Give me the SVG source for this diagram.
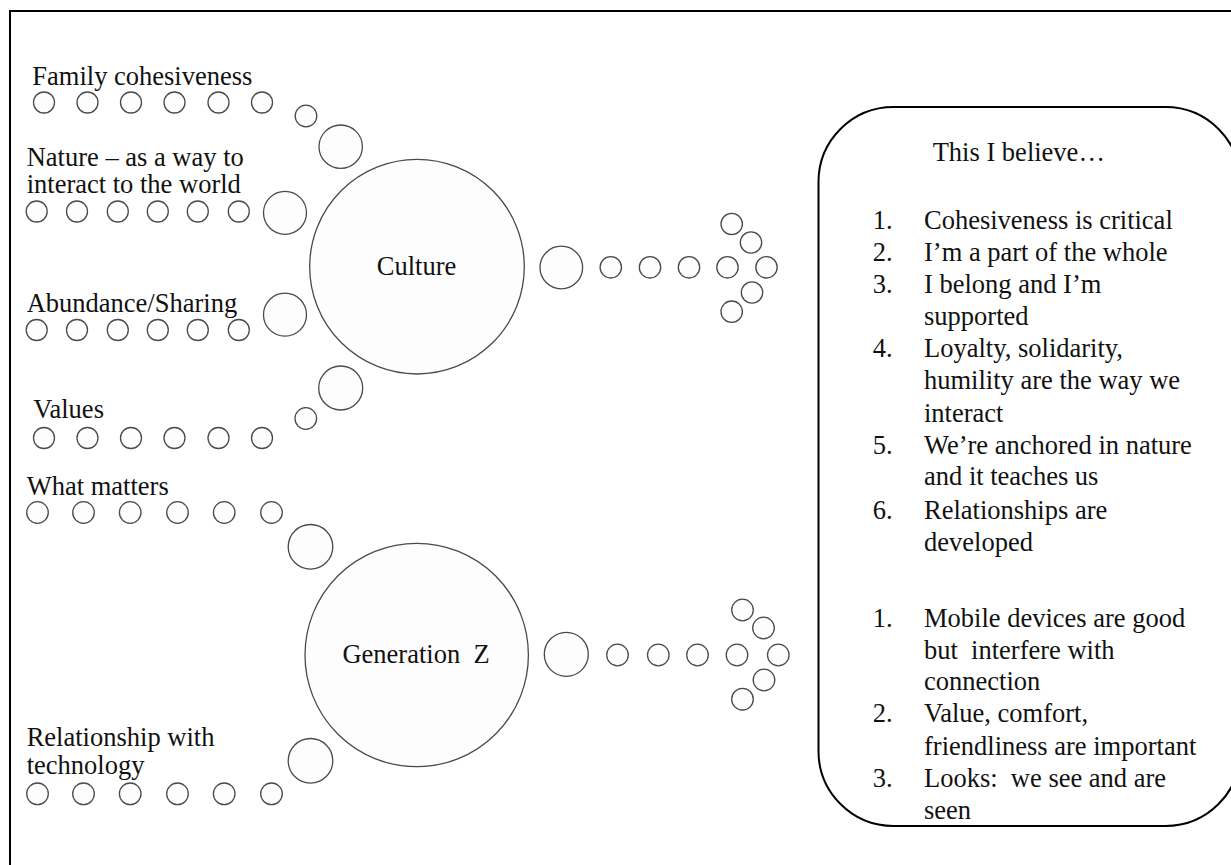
<svg xmlns="http://www.w3.org/2000/svg" width="1231" height="865" viewBox="0 0 1231 865">
  <style>
    .t { font-family: 'Liberation Serif', Tinos, 'Times New Roman', 'DejaVu Serif', serif; font-size: 26.5px; fill: #111; white-space: pre; }
    .c { text-anchor: middle; }
    .d { fill: #fdfdfd; stroke: #4a4a4a; stroke-width: 1.3; }
    .big { fill: #fdfdfd; stroke: #4a4a4a; stroke-width: 1.3; }
    .frame { fill: none; stroke: #000; stroke-width: 2; }
    .box { fill: #fff; stroke: #000; stroke-width: 2; }
  </style>
  <rect width="1231" height="865" fill="#fff"/>
  <path class="frame" d="M10,865 V11 H1231"/>

  <g id="connectors">
    <g id="row-family">
      <circle class="d" cx="44" cy="102.5" r="10.5"/>
      <circle class="d" cx="87.5" cy="102.5" r="10.5"/>
      <circle class="d" cx="131" cy="102.5" r="10.5"/>
      <circle class="d" cx="174.5" cy="102.5" r="10.5"/>
      <circle class="d" cx="218.5" cy="102.5" r="10.5"/>
      <circle class="d" cx="262" cy="102.5" r="10.5"/>
      <circle class="d" cx="306" cy="116" r="10.8"/>
      <circle class="d" cx="340.7" cy="146.7" r="21.7"/>
    </g>
    <g id="row-nature">
      <circle class="d" cx="36.7" cy="211.5" r="10.5"/>
      <circle class="d" cx="77" cy="211.5" r="10.5"/>
      <circle class="d" cx="117.8" cy="211.5" r="10.5"/>
      <circle class="d" cx="157.8" cy="211.5" r="10.5"/>
      <circle class="d" cx="197.8" cy="211.5" r="10.5"/>
      <circle class="d" cx="238.8" cy="211.5" r="10.5"/>
      <circle class="d" cx="285" cy="212.8" r="21.5"/>
    </g>
    <g id="row-abundance">
      <circle class="d" cx="36.7" cy="330" r="10.5"/>
      <circle class="d" cx="77" cy="330" r="10.5"/>
      <circle class="d" cx="117.8" cy="330" r="10.5"/>
      <circle class="d" cx="157.8" cy="330" r="10.5"/>
      <circle class="d" cx="197.8" cy="330" r="10.5"/>
      <circle class="d" cx="238.8" cy="330" r="10.5"/>
      <circle class="d" cx="285" cy="314.7" r="21.5"/>
    </g>
    <g id="row-values">
      <circle class="d" cx="44" cy="438" r="10.5"/>
      <circle class="d" cx="87.5" cy="438" r="10.5"/>
      <circle class="d" cx="131" cy="438" r="10.5"/>
      <circle class="d" cx="174.5" cy="438" r="10.5"/>
      <circle class="d" cx="218.5" cy="438" r="10.5"/>
      <circle class="d" cx="262" cy="438" r="10.5"/>
      <circle class="d" cx="305.8" cy="418.5" r="10.8"/>
      <circle class="d" cx="340.7" cy="388" r="22"/>
    </g>
    <g id="row-matters">
      <circle class="d" cx="37.5" cy="512.5" r="10.8"/>
      <circle class="d" cx="83.5" cy="512.5" r="10.8"/>
      <circle class="d" cx="130.2" cy="512.5" r="10.8"/>
      <circle class="d" cx="177.5" cy="512.5" r="10.8"/>
      <circle class="d" cx="224.2" cy="512.5" r="10.8"/>
      <circle class="d" cx="271.5" cy="512.5" r="10.8"/>
      <circle class="d" cx="310.5" cy="546.8" r="22.3"/>
    </g>
    <g id="row-technology">
      <circle class="d" cx="37.5" cy="793.8" r="10.8"/>
      <circle class="d" cx="83.5" cy="793.8" r="10.8"/>
      <circle class="d" cx="130.2" cy="793.8" r="10.8"/>
      <circle class="d" cx="177.5" cy="793.8" r="10.8"/>
      <circle class="d" cx="224.2" cy="793.8" r="10.8"/>
      <circle class="d" cx="271.5" cy="793.8" r="10.8"/>
      <circle class="d" cx="310.5" cy="760.8" r="22.3"/>
    </g>
    <g id="arrow-culture">
      <circle class="d" cx="561.3" cy="267.5" r="21.3"/>
      <circle class="d" cx="610.8" cy="267.3" r="10.7"/>
      <circle class="d" cx="650" cy="267.3" r="10.7"/>
      <circle class="d" cx="689" cy="267.3" r="10.7"/>
      <circle class="d" cx="727.5" cy="267.3" r="10.7"/>
      <circle class="d" cx="766.5" cy="267.3" r="10.7"/>
      <circle class="d" cx="731.7" cy="224" r="10.7"/>
      <circle class="d" cx="751" cy="242.5" r="10.7"/>
      <circle class="d" cx="752" cy="292.5" r="10.7"/>
      <circle class="d" cx="731.7" cy="311.7" r="10.7"/>
    </g>
    <g id="arrow-genz">
      <circle class="d" cx="566.3" cy="654.3" r="22"/>
      <circle class="d" cx="617.5" cy="655" r="10.8"/>
      <circle class="d" cx="658.3" cy="655" r="10.8"/>
      <circle class="d" cx="697.5" cy="655" r="10.8"/>
      <circle class="d" cx="737" cy="655" r="10.8"/>
      <circle class="d" cx="778.3" cy="655" r="10.8"/>
      <circle class="d" cx="742.5" cy="610" r="10.8"/>
      <circle class="d" cx="763.5" cy="628" r="10.8"/>
      <circle class="d" cx="764" cy="680" r="10.8"/>
      <circle class="d" cx="742.5" cy="699.2" r="10.8"/>
    </g>
  </g>

  <g id="label-family"><text class="t" x="32.3" y="85">Family cohesiveness</text></g>
  <g id="label-nature">
    <text class="t" x="26.7" y="166">Nature – as a way to</text>
    <text class="t" x="26.7" y="193.3">interact to the world</text>
  </g>
  <g id="label-abundance"><text class="t" x="26.7" y="312.3">Abundance/Sharing</text></g>
  <g id="label-values"><text class="t" x="33.3" y="418">Values</text></g>
  <g id="label-matters"><text class="t" x="26.7" y="495">What matters</text></g>
  <g id="label-technology">
    <text class="t" x="26.7" y="746.2">Relationship with</text>
    <text class="t" x="26.7" y="773.5">technology</text>
  </g>

  <g id="culture">
    <circle class="big" cx="417" cy="266.7" r="107.3"/>
    <text class="t c" x="416.5" y="274.5">Culture</text>
  </g>
  <g id="genz">
    <circle class="big" cx="416.7" cy="655" r="111.7"/>
    <text class="t c" x="416" y="662.5">Generation  Z</text>
  </g>

  <g id="beliefs">
    <rect class="box" x="818.5" y="107" width="422" height="719" rx="75" ry="75"/>
    <text class="t" x="932.7" y="161">This I believe…</text>
    <text class="t" x="872.7" y="229">1.</text><text class="t" x="924" y="229">Cohesiveness is critical</text>
    <text class="t" x="872.7" y="261">2.</text><text class="t" x="924" y="261">I’m a part of the whole</text>
    <text class="t" x="872.7" y="293">3.</text><text class="t" x="924" y="293">I belong and I’m</text>
    <text class="t" x="924" y="325">supported</text>
    <text class="t" x="872.7" y="357">4.</text><text class="t" x="924" y="357">Loyalty, solidarity,</text>
    <text class="t" x="924" y="389">humility are the way we</text>
    <text class="t" x="924" y="421.5">interact</text>
    <text class="t" x="872.7" y="453.5">5.</text><text class="t" x="924" y="453.5">We’re anchored in nature</text>
    <text class="t" x="924" y="485">and it teaches us</text>
    <text class="t" x="872.7" y="518.5">6.</text><text class="t" x="924" y="518.5">Relationships are</text>
    <text class="t" x="924" y="550.5">developed</text>
    <text class="t" x="872.7" y="627">1.</text><text class="t" x="924" y="627">Mobile devices are good</text>
    <text class="t" x="924" y="658.5">but  interfere with</text>
    <text class="t" x="924" y="690">connection</text>
    <text class="t" x="872.7" y="722">2.</text><text class="t" x="924" y="722">Value, comfort,</text>
    <text class="t" x="924" y="754.5">friendliness are important</text>
    <text class="t" x="872.7" y="787">3.</text><text class="t" x="924" y="787">Looks:  we see and are</text>
    <text class="t" x="924" y="818.5">seen</text>
  </g>
</svg>
